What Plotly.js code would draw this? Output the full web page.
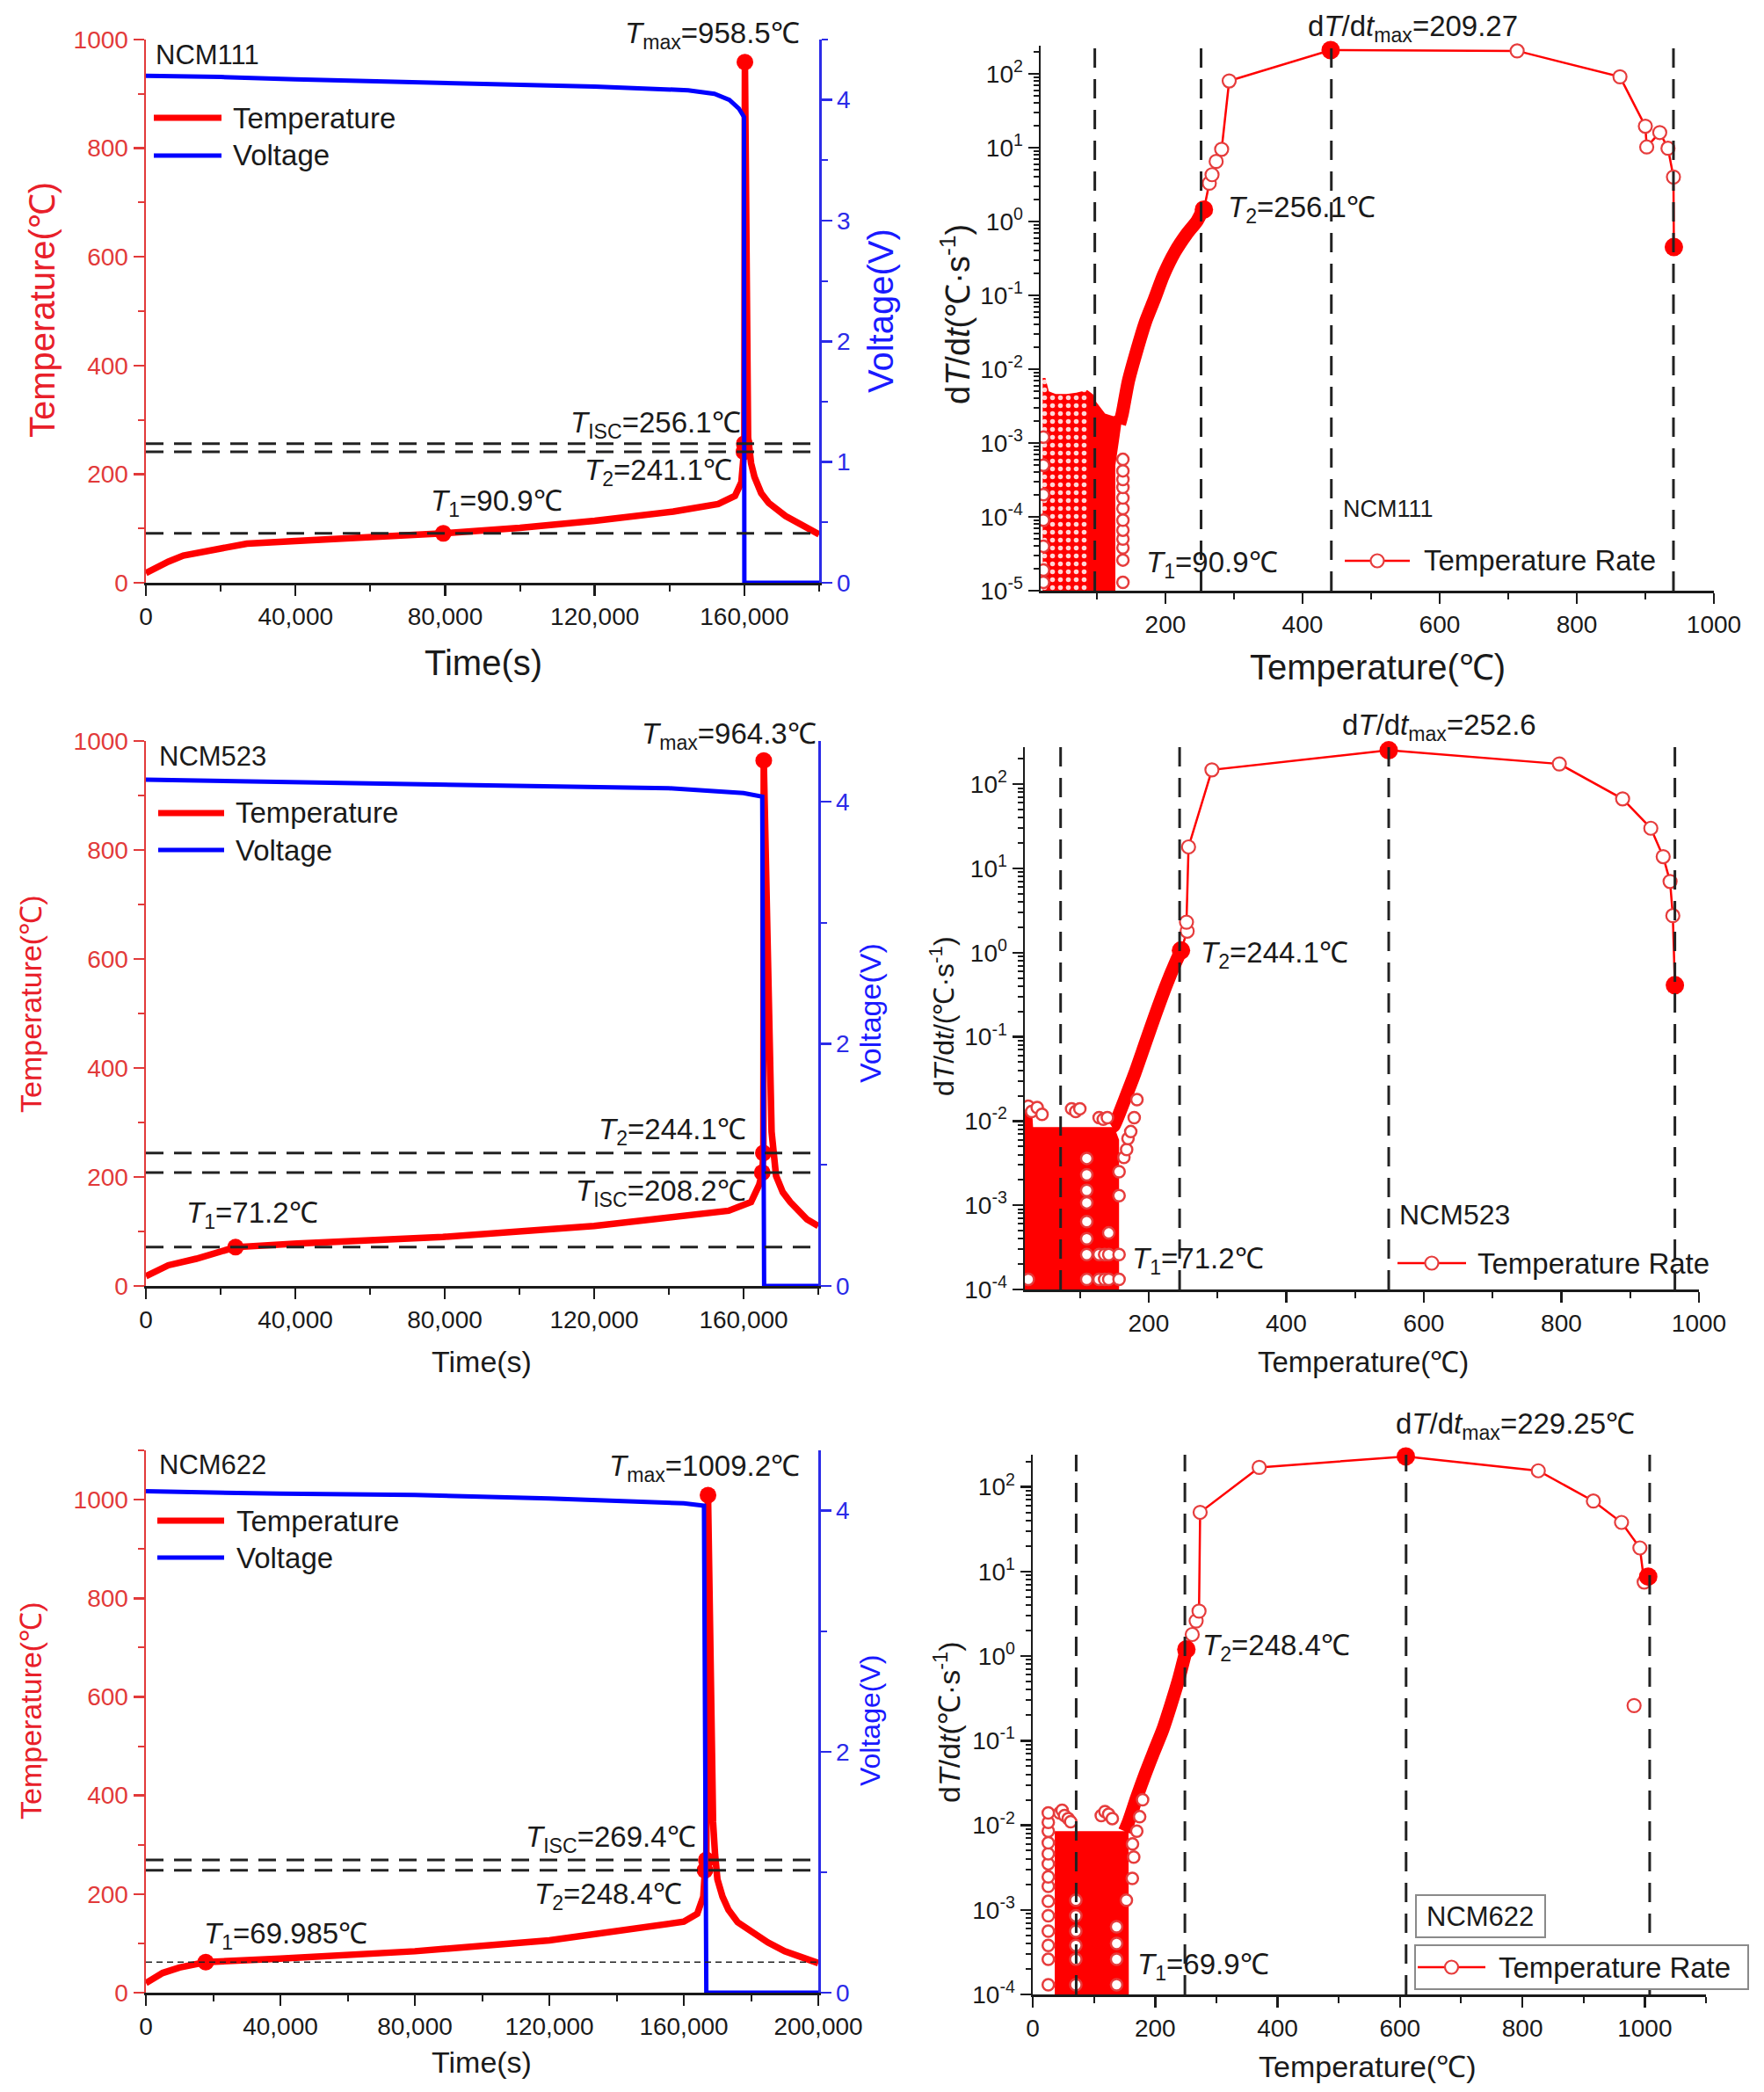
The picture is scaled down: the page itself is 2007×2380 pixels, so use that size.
<!DOCTYPE html>
<html>
<head>
<meta charset="utf-8">
<script src="https://cdn.plot.ly/plotly-3.0.1.min.js"></script>
<style>
  html, body { margin: 0; padding: 0; background: #fff; }
  #chart { width: 2007px; height: 2380px; }
</style>
</head>
<body>
<div id="chart"></div>
<script>
// ---- NCM111: temperature / voltage vs time ----
const t111 = [0, 3000, 6000, 10000, 15000, 21000, 27000, 40000, 60000, 79500, 100000, 120000, 141000, 153000, 157500, 159200, 159900, 160000, 160150, 160600, 161000, 161800, 162700, 164500, 166500, 171000, 175500, 180000];
const temp111 = [18, 30, 39, 50, 56, 63, 72, 77, 83, 90.9, 101, 114, 131, 145, 160, 185, 241.1, 256.1, 958.5, 600, 268, 220, 195, 165, 147, 123, 107, 89];
const tv111 = [0, 20000, 40000, 80000, 120000, 145000, 152000, 156000, 158500, 159900, 160000, 180000];
const volt111 = [4.2, 4.19, 4.17, 4.14, 4.11, 4.08, 4.05, 4.0, 3.93, 3.86, 0, 0];
const markT111 = [79500, 159900, 160000, 160150];
const markV111 = [90.9, 241.1, 256.1, 958.5];
const levels111 = [90.9, 241.1, 256.1];

// ---- NCM523 ----
const t523 = [0, 6000, 13500, 24000, 40500, 79500, 120000, 141000, 156000, 162000, 164200, 165000, 165300, 165400, 166300, 167000, 167500, 168700, 170500, 172500, 177000, 180000];
const temp523 = [18, 38, 50, 71.2, 78, 90, 110, 126, 138, 154, 186, 208.2, 244.1, 964.3, 700, 400, 283, 202, 172, 154, 122, 110];
const tv523 = [0, 40000, 80000, 120000, 140000, 160000, 165000, 165500, 180000];
const volt523 = [4.18, 4.16, 4.14, 4.12, 4.11, 4.07, 4.04, 0, 0];
const markT523 = [24000, 165000, 165300, 165400];
const markV523 = [71.2, 208.2, 244.1, 964.3];
const levels523 = [71.2, 208.2, 244.1];

// ---- NCM622 ----
const t622 = [0, 5000, 10000, 17800, 40000, 80000, 120000, 153000, 160000, 164000, 165800, 166300, 166700, 167200, 167700, 168200, 168700, 169300, 170000, 171500, 173300, 176000, 180000, 185000, 190000, 195000, 200000];
const temp622 = [19.5, 40, 51, 62, 69, 84, 106, 135, 144, 160, 195, 248.4, 269.4, 1009.2, 800, 500, 346, 280, 230, 195, 168, 143, 124, 102, 84, 72, 60];
const tv622 = [0, 40000, 80000, 120000, 160000, 166000, 166700, 200000];
const volt622 = [4.16, 4.14, 4.13, 4.1, 4.06, 4.04, 0, 0];
const markT622 = [17800, 166300, 166700, 167200];
const markV622 = [62, 248.4, 269.4, 1009.2];
const levels622 = [62, 248.4, 269.4];

// ---- NCM111: dT/dt vs temperature ----
const sparseT111 = [256.1, 264, 268, 274, 282, 293, 441, 713, 863, 900, 902, 921, 933, 941, 941.6];
const sparseR111 = [1.45, 3.3, 4.3, 6.5, 9.5, 80, 209.27, 204, 91, 19.5, 10.2, 16, 9.8, 4.0, 0.45];
const keyT111 = [256.1, 441, 941.6];
const keyR111 = [1.45, 209.27, 0.45];
const vlines111 = [97, 252, 442, 941];
const bandT111 = [133, 137, 146, 159, 171, 184, 197, 214, 231, 246, 255];
const bandR111 = [1.8e-3, 2.5e-3, 6.9e-3, 0.019, 0.044, 0.089, 0.186, 0.389, 0.676, 1.01, 1.46];
const hazeT111 = [21, 21, 25, 30, 40, 56, 70, 86, 86];
const hazeR111 = [1e-5, 7.6e-3, 7.6e-3, 5e-3, 4.6e-3, 4.6e-3, 4.8e-3, 5.2e-3, 1e-5];
const cloudT111 = [86, 86, 95, 99, 112, 124, 132, 138, 133, 127, 127];
const cloudR111 = [1e-5, 5.2e-3, 4.5e-3, 3.6e-3, 2.5e-3, 2.3e-3, 2.4e-3, 2.6e-3, 1.2e-3, 5e-4, 1e-5];
const holeT111 = [138, 138, 138, 138, 138, 138, 138, 138, 138, 138, 138, 138, 22, 22, 22, 22, 22, 22, 22];
const holeR111 = [1.3e-5, 2.6e-5, 3.8e-5, 5e-5, 6.6e-5, 9e-5, 1.3e-4, 1.8e-4, 2.5e-4, 3.2e-4, 4.2e-4, 6e-4, 1.3e-5, 1.9e-5, 4e-5, 9e-5, 2e-4, 5e-4, 1.2e-3];

// ---- NCM523: dT/dt ----
const sparseT523 = [247, 256, 255, 258, 292, 549, 797, 889, 930, 948, 958, 962, 965];
const sparseR523 = [1.06, 1.8, 2.3, 18, 148, 252.6, 174, 67, 30, 13.8, 7.0, 2.75, 0.41];
const keyT523 = [247, 549, 965];
const keyR523 = [1.06, 252.6, 0.41];
const vlines523 = [72, 245, 549, 965];
const bandT523 = [147, 150, 165, 180, 195, 210, 225, 240, 247];
const bandR523 = [8.5e-3, 8.9e-3, 0.0178, 0.037, 0.083, 0.186, 0.40, 0.79, 1.05];
const cloudT523 = [20, 20, 30, 32, 150, 157, 157];
const cloudR523 = [1e-4, 1.6e-2, 1.6e-2, 8.5e-3, 8.5e-3, 6e-3, 1e-4];
const holeT523 = [110, 110, 110, 110, 110, 110, 110, 110, 25, 128, 136, 142, 128, 136, 142, 142];
const holeR523 = [1.32e-4, 2.6e-4, 4e-4, 6.4e-4, 1.07e-3, 1.5e-3, 2.3e-3, 3.6e-3, 1.32e-4, 1.32e-4, 1.32e-4, 1.32e-4, 2.6e-4, 2.6e-4, 2.6e-4, 4.7e-4];
const rimT523 = [157, 157, 157, 157, 164, 168, 170, 174, 179, 183, 25, 30, 38, 45, 88, 94, 100, 128, 134, 140];
const rimR523 = [1.32e-4, 2.6e-4, 1.3e-3, 2.5e-3, 3.7e-3, 4.6e-3, 6.2e-3, 7.5e-3, 0.011, 0.018, 1.5e-2, 1.3e-2, 1.45e-2, 1.2e-2, 1.4e-2, 1.3e-2, 1.4e-2, 1.1e-2, 1.05e-2, 1.1e-2];

// ---- NCM622: dT/dt ----
const sparseT622 = [251, 260.6, 267, 271.7, 273.5, 370, 609.6, 826, 916, 962, 992, 999, 1005.6];
const sparseR622 = [1.2, 1.8, 2.6, 3.4, 50, 170, 229.25, 155, 68, 38, 19, 7.5, 8.7];
const keyT622 = [251, 609.6, 1005.6];
const keyR622 = [1.2, 229.25, 8.7];
const strayT622 = [982.5];
const strayR622 = [0.26];
const vlines622 = [71, 248.6, 610, 1008];
const bandT622 = [150, 156.5, 170, 184, 198, 212, 226, 239, 251];
const bandR622 = [8.5e-3, 0.011, 0.0214, 0.0407, 0.074, 0.132, 0.269, 0.55, 1.2];
const cloudT622 = [36, 36, 150, 156.5, 157];
const cloudR622 = [1e-4, 8.5e-3, 8.5e-3, 1.1e-2, 1e-4];
const holeT622 = [25.4, 25.4, 25.4, 25.4, 25.4, 25.4, 25.4, 25.4, 25.4, 25.4, 25.4, 25.4, 25.4, 25.4, 70.4, 70.4, 70.4, 70.4, 70.4, 70.4, 137, 137, 137, 137];
const holeR622 = [1.3e-4, 2.6e-4, 3.8e-4, 5.6e-4, 8.5e-4, 1.26e-3, 1.9e-3, 2.45e-3, 3.5e-3, 4.6e-3, 6.2e-3, 8.5e-3, 1.08e-2, 1.4e-2, 1.3e-4, 2.6e-4, 3.8e-4, 5.6e-4, 8.5e-4, 1.3e-3, 1.3e-4, 2.6e-4, 4e-4, 6.3e-4];
const rimT622 = [153, 162.7, 165, 163, 170, 174.7, 179.5, 44, 48, 52, 58, 62, 112, 118, 124, 130];
const rimR622 = [1.3e-3, 2.35e-3, 4.2e-3, 6e-3, 8.5e-3, 1.26e-2, 2e-2, 1.4e-2, 1.5e-2, 1.3e-2, 1.2e-2, 1.1e-2, 1.3e-2, 1.45e-2, 1.35e-2, 1.2e-2];

// log-axis decade ticks
const decTicks = [1e-5, 1e-4, 1e-3, 1e-2, 1e-1, 1, 10, 100];
const decLabels = ['10<sup>-5</sup>', '10<sup>-4</sup>', '10<sup>-3</sup>', '10<sup>-2</sup>', '10<sup>-1</sup>', '10<sup>0</sup>', '10<sup>1</sup>', '10<sup>2</sup>'];

const W = 2007, H = 2380;
const FONT = 'Liberation Sans, Arial, Helvetica, sans-serif';
const RED = '#ff0000', BLUE = '#0000ff', INK = '#1a1a1a';
const AXRED = '#e23a3a', AXBLUE = '#2b2be8', RIM = '#e63c3c';

const px = x => x / W;
const py = y => 1 - y / H;
const key = ax => ax[0] + 'axis' + ax.slice(1);

const traces = [];
const shapes = [];
const annotations = [];
const layout = {
  width: W, height: H,
  paper_bgcolor: '#fff', plot_bgcolor: 'rgba(0,0,0,0)',
  margin: { l: 0, r: 0, t: 0, b: 0 },
  showlegend: false,
  font: { family: FONT, color: INK },
  shapes, annotations
};

function axisBase(color, fontSize) {
  return {
    showline: true, linecolor: color, linewidth: 2.5,
    ticks: 'outside', ticklen: 12, tickwidth: 2.5, tickcolor: color,
    tickfont: { family: FONT, size: fontSize, color: color },
    minor: { ticks: 'outside', ticklen: 7, tickwidth: 2, tickcolor: color },
    showgrid: false, zeroline: false, fixedrange: true
  };
}

function label(x, y, text, size, anchor, opts) {
  annotations.push(Object.assign({
    xref: 'paper', yref: 'paper', x: px(x), y: py(y), text,
    showarrow: false, xanchor: anchor, yanchor: 'middle',
    font: { family: FONT, size, color: INK }
  }, opts || {}));
}

function vtitle(x, y, text, size, color) {
  label(x, y, text, size, 'center', { textangle: -90, font: { family: FONT, size, color } });
}

function legendLine(x0, x1, y, color, width) {
  shapes.push({ type: 'line', xref: 'paper', yref: 'paper', x0: px(x0), x1: px(x1), y0: py(y), y1: py(y), line: { color, width } });
}

// ---- left column: temperature + voltage vs time ----
function leftPanel(p) {
  traces.push({ type: 'scatter', mode: 'lines', x: p.t, y: p.temp, xaxis: p.xa, yaxis: p.ya,
    line: { color: RED, width: 7.5 }, hoverinfo: 'skip' });
  traces.push({ type: 'scatter', mode: 'lines', x: p.tv, y: p.volt, xaxis: p.xa, yaxis: p.va,
    line: { color: BLUE, width: 5 }, hoverinfo: 'skip' });
  traces.push({ type: 'scatter', mode: 'markers', x: p.markT, y: p.markV, xaxis: p.xa, yaxis: p.ya,
    marker: { size: 19, color: RED }, cliponaxis: false, hoverinfo: 'skip' });

  p.levels.forEach((v, i) => {
    const thin = p.thinFirst && i === 0;
    shapes.push({ type: 'line', xref: p.xa + ' domain', yref: p.ya, x0: 0, x1: 1, y0: v, y1: v,
      line: { color: '#222', width: thin ? 1.6 : 3, dash: thin ? '7px,5px' : '20px,12px' } });
  });

  const xa = axisBase(INK, 28);
  Object.assign(xa, { domain: [px(p.box[0]), px(p.box[2])], range: p.xr, anchor: p.ya,
    tick0: 0, dtick: 40000, tickformat: ',' });
  xa.minor.dtick = 20000;
  layout[key(p.xa)] = xa;

  const ya = axisBase(AXRED, 28);
  Object.assign(ya, { domain: [py(p.box[3]), py(p.box[1])], range: p.yr, anchor: p.xa, tick0: 0, dtick: 200 });
  ya.minor.dtick = 100;
  layout[key(p.ya)] = ya;

  const va = axisBase(AXBLUE, 28);
  Object.assign(va, { overlaying: p.ya, side: 'right', anchor: p.xa, range: [0, 4.5], tick0: 0, dtick: p.vd });
  va.minor.dtick = p.vd / 2;
  layout[key(p.va)] = va;
}

// ---- right column: heating rate vs temperature ----
function rightPanel(p) {
  const on = { xaxis: p.xa, yaxis: p.ya, hoverinfo: 'skip', type: 'scatter' };
  if (p.hazeT) {
    traces.push(Object.assign({ mode: 'lines', x: p.hazeT, y: p.hazeR, fill: 'toself',
      fillcolor: RED, line: { width: 0, color: RED },
      fillpattern: { shape: '.', bgcolor: RED, fgcolor: '#ffd6d6', size: 9, solidity: 0.3 } }, on));
  }
  traces.push(Object.assign({ mode: 'lines', x: p.cloudT, y: p.cloudR, fill: 'toself',
    fillcolor: RED, line: { width: 0, color: RED } }, on));
  traces.push(Object.assign({ mode: 'lines', x: p.bandT, y: p.bandR,
    line: { color: RED, width: 15, shape: 'spline', smoothing: 0.6 } }, on));
  traces.push(Object.assign({ mode: 'markers', x: p.holeT, y: p.holeR,
    marker: { symbol: 'circle', size: 13, color: '#fff', line: { color: RIM, width: 2.5 } } }, on));
  if (p.rimT) {
    traces.push(Object.assign({ mode: 'markers', x: p.rimT, y: p.rimR,
      marker: { symbol: 'circle', size: 13, color: '#fff', line: { color: RIM, width: 2.5 } } }, on));
  }
  if (p.strayT) {
    traces.push(Object.assign({ mode: 'markers', x: p.strayT, y: p.strayR,
      marker: { symbol: 'circle', size: 15, color: '#fff', line: { color: RIM, width: 2.2 } } }, on));
  }
  traces.push(Object.assign({ mode: 'lines+markers', x: p.sparseT, y: p.sparseR, cliponaxis: false,
    line: { color: RED, width: 2.5 },
    marker: { symbol: 'circle', size: 15, color: '#fff', line: { color: RIM, width: 2.2 } } }, on));
  traces.push(Object.assign({ mode: 'markers', x: p.keyT, y: p.keyR, cliponaxis: false,
    marker: { symbol: 'circle', size: 21, color: RED } }, on));

  p.vlines.forEach(v => {
    shapes.push({ type: 'line', xref: p.xa, yref: p.ya + ' domain', x0: v, x1: v, y0: 0, y1: 1,
      layer: 'above', line: { color: '#222', width: 3, dash: '22px,13px' } });
  });

  const xa = axisBase(INK, 28);
  Object.assign(xa, { domain: [px(p.box[0]), px(p.box[2])], range: p.xr, anchor: p.ya, tick0: 0, dtick: 200 });
  xa.minor.dtick = 100;
  layout[key(p.xa)] = xa;

  const ya = axisBase(INK, 28);
  Object.assign(ya, { domain: [py(p.box[3]), py(p.box[1])], type: 'log', range: p.yr, anchor: p.xa,
    tickmode: 'array', tickvals: p.ticks, ticktext: p.tickText });
  ya.minor.dtick = 'D1';
  ya.minor.ticklen = 6;
  layout[key(p.ya)] = ya;
}

// panel boxes in page pixels: [left, top, right, bottom]
leftPanel({ xa: 'x', ya: 'y', va: 'y7', box: [166, 45, 932, 663], xr: [0, 180000], yr: [0, 1000], vd: 1,
  t: t111, temp: temp111, tv: tv111, volt: volt111, markT: markT111, markV: markV111, levels: levels111 });
leftPanel({ xa: 'x3', ya: 'y3', va: 'y8', box: [166, 843, 931, 1463], xr: [0, 180000], yr: [0, 1000], vd: 2,
  t: t523, temp: temp523, tv: tv523, volt: volt523, markT: markT523, markV: markV523, levels: levels523 });
leftPanel({ xa: 'x5', ya: 'y5', va: 'y9', box: [166, 1650, 931, 2267], xr: [0, 200000], yr: [0, 1100], vd: 2,
  t: t622, temp: temp622, tv: tv622, volt: volt622, markT: markT622, markV: markV622, levels: levels622, thinFirst: true });

rightPanel({ xa: 'x2', ya: 'y2', box: [1184, 52, 1950, 672], xr: [18, 1000], yr: [-5, 2.38],
  ticks: decTicks, tickText: decLabels,
  hazeT: hazeT111, hazeR: hazeR111, cloudT: cloudT111, cloudR: cloudR111, bandT: bandT111, bandR: bandR111,
  holeT: holeT111, holeR: holeR111, sparseT: sparseT111, sparseR: sparseR111, keyT: keyT111, keyR: keyR111,
  vlines: vlines111 });
rightPanel({ xa: 'x4', ya: 'y4', box: [1166, 850, 1933, 1467], xr: [20, 1000], yr: [-4, 2.44],
  ticks: decTicks.slice(1), tickText: decLabels.slice(1),
  cloudT: cloudT523, cloudR: cloudR523, bandT: bandT523, bandR: bandR523,
  holeT: holeT523, holeR: holeR523, rimT: rimT523, rimR: rimR523,
  sparseT: sparseT523, sparseR: sparseR523, keyT: keyT523, keyR: keyR523, vlines: vlines523 });
rightPanel({ xa: 'x6', ya: 'y6', box: [1175, 1655, 1941, 2269], xr: [0, 1100], yr: [-4, 2.38],
  ticks: decTicks.slice(1), tickText: decLabels.slice(1),
  cloudT: cloudT622, cloudR: cloudR622, bandT: bandT622, bandR: bandR622,
  holeT: holeT622, holeR: holeR622, rimT: rimT622, rimR: rimR622, strayT: strayT622, strayR: strayR622,
  sparseT: sparseT622, sparseR: sparseR622, keyT: keyT622, keyR: keyR622, vlines: vlines622 });

// ---- axis titles ----
const DEG = '\u2103';
vtitle(48, 353, 'Temperature(' + DEG + ')', 40, '#e8202a');
vtitle(1002, 354, 'Voltage(V)', 40, '#1a1aff');
label(550, 754, 'Time(s)', 40, 'center');
vtitle(1087, 358, 'd<i>T</i>/d<i>t</i>(' + DEG + '\u00b7s<sup>-1</sup>)', 38, INK);
label(1567, 759, 'Temperature(' + DEG + ')', 40, 'center');

vtitle(35, 1142, 'Temperature(' + DEG + ')', 34, '#e8202a');
vtitle(990, 1153, 'Voltage(V)', 34, '#1a1aff');
label(548, 1549, 'Time(s)', 34, 'center');
vtitle(1072, 1156, 'd<i>T</i>/d<i>t</i>/(' + DEG + '\u00b7s<sup>-1</sup>)', 32, INK);
label(1551, 1549, 'Temperature(' + DEG + ')', 33, 'center');

vtitle(35, 1946, 'Temperature(' + DEG + ')', 34, '#e8202a');
vtitle(990, 1958, 'Voltage(V)', 32, '#1a1aff');
label(548, 2346, 'Time(s)', 34, 'center');
vtitle(1077, 1959, 'd<i>T</i>/d<i>t</i>(' + DEG + '\u00b7s<sup>-1</sup>)', 34, INK);
label(1556, 2351, 'Temperature(' + DEG + ')', 34, 'center');

// ---- left panel labels and legends ----
label(175, 62, 'NCM111', 31, 'left');
label(912, 40, '<i>T</i><sub>max</sub>=958.5' + DEG, 33, 'right');
label(845, 483, '<i>T</i><sub>ISC</sub>=256.1' + DEG, 33, 'right');
label(835, 537, '<i>T</i><sub>2</sub>=241.1' + DEG, 33, 'right');
label(488, 572, '<i>T</i><sub>1</sub>=90.9' + DEG, 33, 'left');
legendLine(175, 252, 134, RED, 7);
legendLine(175, 252, 177, BLUE, 5);
label(263, 134, 'Temperature', 33, 'left');
label(263, 177, 'Voltage', 33, 'left');

label(179, 860, 'NCM523', 31, 'left');
label(931, 837, '<i>T</i><sub>max</sub>=964.3' + DEG, 33, 'right');
label(851, 1287, '<i>T</i><sub>2</sub>=244.1' + DEG, 33, 'right');
label(851, 1357, '<i>T</i><sub>ISC</sub>=208.2' + DEG, 33, 'right');
label(210, 1382, '<i>T</i><sub>1</sub>=71.2' + DEG, 33, 'left');
legendLine(180, 255, 925, RED, 7);
legendLine(180, 255, 967, BLUE, 5);
label(266, 925, 'Temperature', 33, 'left');
label(266, 967, 'Voltage', 33, 'left');

label(179, 1666, 'NCM622', 31, 'left');
label(912, 1670, '<i>T</i><sub>max</sub>=1009.2' + DEG, 33, 'right');
label(794, 2092, '<i>T</i><sub>ISC</sub>=269.4' + DEG, 33, 'right');
label(778, 2157, '<i>T</i><sub>2</sub>=248.4' + DEG, 33, 'right');
label(230, 2202, '<i>T</i><sub>1</sub>=69.985' + DEG, 33, 'left');
legendLine(179, 255, 1730, RED, 7);
legendLine(179, 255, 1772, BLUE, 5);
label(267, 1730, 'Temperature', 33, 'left');
label(267, 1772, 'Voltage', 33, 'left');

// ---- right panel labels and legends ----
function rateLegend(x0, x1, y, tx, size) {
  legendLine(x0, x1, y, RED, 2.5);
  const cx = (x0 + x1) / 2, r = 7.5;
  shapes.push({ type: 'circle', xref: 'paper', yref: 'paper', x0: px(cx - r), x1: px(cx + r), y0: py(y + r), y1: py(y - r),
    fillcolor: '#fff', line: { color: RIM, width: 2.2 } });
  label(tx, y, 'Temperature Rate', size, 'left');
}

label(1607, 32, 'd<i>T</i>/d<i>t</i><sub>max</sub>=209.27', 33, 'center');
label(1395, 238, '<i>T</i><sub>2</sub>=256.1' + DEG, 33, 'left');
label(1302, 642, '<i>T</i><sub>1</sub>=90.9' + DEG, 33, 'left');
label(1526, 579, 'NCM111', 27, 'left');
rateLegend(1530, 1604, 638, 1618, 33);

label(1637, 827, 'd<i>T</i>/d<i>t</i><sub>max</sub>=252.6', 33, 'center');
label(1364, 1086, '<i>T</i><sub>2</sub>=244.1' + DEG, 33, 'left');
label(1286, 1434, '<i>T</i><sub>1</sub>=71.2' + DEG, 33, 'left');
label(1590, 1382, 'NCM523', 32, 'left');
rateLegend(1590, 1668, 1437, 1679, 33);

label(1724, 1622, 'd<i>T</i>/d<i>t</i><sub>max</sub>=229.25' + DEG, 33, 'center');
label(1366, 1874, '<i>T</i><sub>2</sub>=248.4' + DEG, 33, 'left');
label(1292, 2237, '<i>T</i><sub>1</sub>=69.9' + DEG, 33, 'left');
shapes.push({ type: 'rect', xref: 'paper', yref: 'paper', x0: px(1611), x1: px(1758), y0: py(2204), y1: py(2156),
  fillcolor: '#fff', line: { color: '#8a8a8a', width: 2 } });
label(1684, 2180, 'NCM622', 31, 'center');
shapes.push({ type: 'rect', xref: 'paper', yref: 'paper', x0: px(1610), x1: px(1989), y0: py(2263), y1: py(2213),
  fillcolor: '#fff', line: { color: '#8a8a8a', width: 2 } });
rateLegend(1613, 1690, 2238, 1703, 33);

Plotly.newPlot('chart', traces, layout, { displayModeBar: false, staticPlot: true });
</script>
</body>
</html>
